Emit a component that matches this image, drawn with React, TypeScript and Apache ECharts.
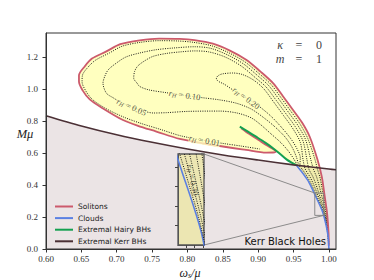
import { useEffect, useRef } from "react";
import * as echarts from "echarts";

// ---------------- data ----------------
const xTicks = [0.6, 0.65, 0.7, 0.75, 0.8, 0.85, 0.9, 0.95, 1.0];
const yTicks = [0.0, 0.2, 0.4, 0.6, 0.8, 1.0, 1.2];
const insetXTicks = [0.984, 0.988, 0.992];
const insetYTicks = [0.24, 0.27, 0.30, 0.33];
const solitons: number[][] = [
  [0.9998, 0.02], [0.9995, 0.10], [0.9975, 0.22], [0.994, 0.33], [0.990, 0.45], [0.984, 0.556],
  [0.973, 0.70], [0.962, 0.79], [0.949, 0.87], [0.935, 0.955], [0.921, 1.037], [0.903, 1.11],
  [0.883, 1.183], [0.860, 1.24], [0.836, 1.283], [0.810, 1.305], [0.789, 1.313], [0.760, 1.315],
  [0.7324, 1.304], [0.705, 1.28], [0.6854, 1.235], [0.665, 1.19], [0.6547, 1.141], [0.6466, 1.085],
  [0.6466, 1.047], [0.652, 0.99], [0.6618, 0.935], [0.680, 0.880], [0.7088, 0.806], [0.730, 0.770],
  [0.756, 0.734], [0.789, 0.688], [0.836, 0.650], [0.883, 0.619], [0.9115, 0.602], [0.921, 0.603],
  [0.925, 0.610], [0.922, 0.622], [0.912, 0.648], [0.900, 0.683], [0.887, 0.720], [0.876, 0.755],
];
const extremalHairy: number[][] = [
  [0.874, 0.765], [0.885, 0.735], [0.897, 0.702], [0.910, 0.665], [0.921, 0.630],
  [0.931, 0.594], [0.940, 0.560], [0.948, 0.538], [0.954, 0.524],
];
const clouds: number[][] = [
  [0.954, 0.524], [0.962, 0.48], [0.970, 0.43], [0.977, 0.37], [0.982, 0.322],
  [0.987, 0.275], [0.9915, 0.227], [0.996, 0.15], [0.9988, 0.08], [1.0, 0.0],
];
const extremalKerr: number[][] = [
  [0.60, 0.833], [0.65, 0.769], [0.70, 0.714], [0.75, 0.667], [0.80, 0.625],
  [0.85, 0.588], [0.90, 0.556], [0.95, 0.526], [1.00, 0.500], [1.01, 0.495],
];
const rH030: number[][] = [
  [0.9994, 0.035], [0.9975, 0.12], [0.9937, 0.20], [0.9902, 0.25], [0.9856, 0.30],
  [0.9808, 0.35], [0.9757, 0.40], [0.9696, 0.45], [0.9619, 0.50], [0.9565, 0.526],
];
const rH020: number[][] = [
  [0.9993, 0.06], [0.9978, 0.12], [0.9944, 0.20], [0.9913, 0.25], [0.9873, 0.30], [0.9831, 0.35],
  [0.9786, 0.40], [0.9733, 0.45], [0.9665, 0.50], [0.9635, 0.556], [0.9596, 0.6655], [0.9486, 0.7555],
  [0.9356, 0.8355], [0.9216, 0.9205], [0.9076, 1.0025], [0.8937, 1.055], [0.878, 1.09], [0.864, 1.10],
  [0.850, 1.095], [0.844, 1.085], [0.8408, 1.068], [0.843, 1.05], [0.852, 1.03], [0.864, 0.995],
  [0.883, 0.945], [0.902, 0.889], [0.918, 0.83], [0.932, 0.765], [0.946, 0.69], [0.955, 0.625],
  [0.9595, 0.57], [0.959, 0.527],
];
const rH010: number[][] = [
  [0.9992, 0.08], [0.9982, 0.12], [0.9953, 0.20], [0.9926, 0.25], [0.9892, 0.30], [0.9856, 0.35],
  [0.9819, 0.40], [0.9775, 0.45], [0.9716, 0.50], [0.969, 0.556], [0.9633, 0.675], [0.9523, 0.765],
  [0.9393, 0.845], [0.9253, 0.930], [0.9113, 1.012], [0.8962, 1.070], [0.8762, 1.143], [0.8532, 1.20],
  [0.830, 1.232], [0.810, 1.238], [0.790, 1.232], [0.770, 1.222], [0.752, 1.205], [0.742, 1.183],
  [0.730, 1.145], [0.7253, 1.110], [0.724, 1.068], [0.729, 1.035], [0.7324, 1.016], [0.745, 0.995],
  [0.770, 0.977], [0.795, 0.960], [0.822, 0.945], [0.8455, 0.932], [0.870, 0.91], [0.89, 0.875],
  [0.905, 0.83], [0.922, 0.77], [0.938, 0.70], [0.948, 0.635], [0.954, 0.575], [0.957, 0.527],
];
const rH005: number[][] = [
  [0.9995, 0.06], [0.9986, 0.12], [0.9963, 0.20], [0.9942, 0.25], [0.9916, 0.30], [0.9888, 0.35],
  [0.9859, 0.40], [0.9826, 0.45], [0.9780, 0.50], [0.9745, 0.556], [0.9669, 0.684], [0.9559, 0.774],
  [0.9429, 0.854], [0.9289, 0.939], [0.9149, 1.021], [0.8988, 1.085], [0.8788, 1.158], [0.8558, 1.215],
  [0.832, 1.255], [0.81, 1.264], [0.7795, 1.256], [0.755, 1.245], [0.7324, 1.225], [0.713, 1.20],
  [0.6995, 1.162], [0.688, 1.12], [0.683, 1.078], [0.6806, 1.037], [0.6854, 0.974], [0.695, 0.945],
  [0.7042, 0.921], [0.72, 0.89], [0.738, 0.862], [0.752, 0.850], [0.77, 0.852], [0.80, 0.860],
  [0.8455, 0.862], [0.87, 0.85], [0.89, 0.82], [0.904, 0.775], [0.918, 0.72], [0.932, 0.665],
  [0.943, 0.61], [0.950, 0.565], [0.955, 0.527],
];
const rH001: number[][] = [
  [0.9997, 0.03], [0.9990, 0.12], [0.9972, 0.20], [0.9956, 0.25], [0.9937, 0.30], [0.9916, 0.35],
  [0.9895, 0.40], [0.9872, 0.45], [0.9837, 0.50], [0.9805, 0.556], [0.970, 0.692], [0.959, 0.782],
  [0.946, 0.862], [0.932, 0.947], [0.918, 1.029], [0.9009, 1.0975], [0.8809, 1.1705], [0.8579, 1.2275],
  [0.8339, 1.2705], [0.808, 1.292], [0.787, 1.300], [0.760, 1.302], [0.734, 1.292], [0.708, 1.268],
  [0.690, 1.226], [0.670, 1.18], [0.6595, 1.137], [0.6515, 1.085], [0.651, 1.045], [0.656, 0.99],
  [0.665, 0.937], [0.683, 0.882], [0.709, 0.826], [0.735, 0.784], [0.760, 0.750], [0.790, 0.708],
  [0.822, 0.680], [0.850, 0.660], [0.875, 0.644], [0.902, 0.625],
];
// contour label anchors
const contourLabels: { v: number[]; t: string; rot: number }[] = [
  { v: [0.824, 0.679], t: "0.01", rot: -10 },
  { v: [0.721, 0.888], t: "0.05", rot: -24 },
  { v: [0.796, 0.962], t: "0.10", rot: -8 },
  { v: [0.883, 0.944], t: "0.20", rot: -36 },
];
const insetLabels: { v: number[]; t: string; rot: number }[] = [
  { v: [0.9872, 0.31], t: "0.30", rot: -78 },
];
const insetX = [0.98, 0.9926];
const insetY = [0.21, 0.35];
const legendNames = ["Solitons", "Clouds", "Extremal Hairy BHs", "Extremal Kerr BHs"];

// ---------------- styles ----------------
const SERIF = "'Liberation Serif', 'DejaVu Serif', serif";
const SANS = "'DejaVu Sans', sans-serif";
const RED = "#cc5a6c";
const BLUE = "#5b80e2";
const GREEN = "#14a050";
const KERR = "#4b3035";
const LABEL = "#1f1f1f";
const INSET = { left: 178, top: 154, width: 26, height: 91 };

const labelRich = (bg: string) => ({
  r: { fontFamily: SERIF, fontStyle: "italic", fontSize: 8.5, color: LABEL, backgroundColor: bg },
  h: { fontFamily: SERIF, fontStyle: "italic", fontSize: 6, color: LABEL, padding: [4, 0, 0, 0], backgroundColor: bg },
  t: { fontFamily: SERIF, fontSize: 8.5, color: LABEL, backgroundColor: bg },
});

function contour(data: number[][], idx: number, z: number) {
  return {
    type: "line", data, xAxisIndex: idx, yAxisIndex: idx, showSymbol: false, symbol: "none",
    smooth: 0.3, silent: true, z,
    lineStyle: { color: "#111", width: 0.95, type: [1, 1.3] },
  };
}

function labelSeries(items: { v: number[]; t: string; rot: number }[], idx: number, bg: string, z: number) {
  return {
    type: "scatter", xAxisIndex: idx, yAxisIndex: idx, symbolSize: 0.1, silent: true, z,
    itemStyle: { color: "transparent" },
    data: items.map((it) => ({
      value: it.v,
      label: {
        show: true, position: "inside", rotate: it.rot,
        formatter: "{r|r}{h|H}{t| = " + it.t + "}",
        rich: labelRich(bg),
      },
    })),
  };
}

export default function App() {
  const ref = useRef<HTMLDivElement>(null);
  useEffect(() => {
    if (!ref.current) return;
    const chart = echarts.init(ref.current, undefined, { renderer: "svg" });
    const domain = [...solitons, ...extremalHairy, ...clouds.slice(1)];
    const tickLabel = { fontFamily: SERIF, fontSize: 9, color: "#333" };
    const txt = (x: number, y: number, text: string, italic: boolean) => ({
      type: "text", x, y, z: 20, silent: true,
      style: { text, fontFamily: SERIF, fontStyle: italic ? "italic" : "normal", fontSize: 12, fill: "#444", align: "center", verticalAlign: "middle" },
    });
    chart.setOption({
      animation: false,
      backgroundColor: "#ffffff",
      grid: [
        { left: 46, right: 38, top: 33, bottom: 31, show: true, z: 3, backgroundColor: "transparent", borderColor: "#333", borderWidth: 1 },
        { left: INSET.left, top: INSET.top, width: INSET.width, height: INSET.height, show: true, z: 10, backgroundColor: "#ece6b2", borderColor: "#555", borderWidth: 1.3 },
      ],
      xAxis: [
        {
          type: "value", gridIndex: 0, min: 0.6, max: 1.01, z: 3,
          axisLine: { show: true, lineStyle: { color: "#333", width: 1 } },
          axisTick: { show: true, length: 3.5, lineStyle: { color: "#333" }, customValues: xTicks },
          axisLabel: { ...tickLabel, margin: 5, customValues: xTicks, formatter: (v: number) => v.toFixed(2) },
          splitLine: { show: false },
        },
        {
          type: "value", gridIndex: 1, min: insetX[0], max: insetX[1], z: 11,
          axisLine: { show: true, lineStyle: { color: "#555" } },
          axisTick: { show: true, length: 3, lineStyle: { color: "#444" }, customValues: insetXTicks },
          axisLabel: { show: false }, splitLine: { show: false },
        },
      ],
      yAxis: [
        {
          type: "value", gridIndex: 0, min: 0, max: 1.35, z: 3,
          axisLine: { show: true, lineStyle: { color: "#333", width: 1 } },
          axisTick: { show: true, length: 3.5, lineStyle: { color: "#333" }, customValues: yTicks },
          axisLabel: { ...tickLabel, margin: 8, customValues: yTicks, formatter: (v: number) => v.toFixed(1) },
          splitLine: { show: false },
        },
        {
          type: "value", gridIndex: 1, min: insetY[0], max: insetY[1], z: 11,
          axisLine: { show: true, lineStyle: { color: "#555" } },
          axisTick: { show: true, length: 3, lineStyle: { color: "#444" }, customValues: insetYTicks },
          axisLabel: { show: false }, splitLine: { show: false },
        },
      ],
      legend: {
        data: legendNames, orient: "vertical", left: 50, top: 197, icon: "rect",
        itemWidth: 18, itemHeight: 2, itemGap: 2.6,
        textStyle: { fontFamily: SANS, fontSize: 7.5, color: "#222", lineHeight: 9 },
      },
      series: [
        {
          type: "line", data: extremalKerr, smooth: 0.3, showSymbol: false, symbol: "none", silent: true, z: 1,
          lineStyle: { width: 0 }, areaStyle: { color: "#ebe4e5", opacity: 1, origin: "start" },
        },
        {
          type: "custom", silent: true, z: 1, data: [[0.8, 0.8]],
          renderItem: (_p: any, api: any) => ({
            type: "polygon",
            shape: { points: domain.map((p) => api.coord(p)), smooth: 0.3 },
            style: { fill: "rgba(255,255,0,0.25)" },
          }),
        },
        contour(rH001, 0, 2),
        contour(rH005, 0, 2),
        contour(rH010, 0, 2),
        contour(rH020, 0, 2),
        contour(rH030, 0, 2),
        labelSeries(contourLabels, 0, "#ffffbf", 4),
        { name: "Solitons", type: "line", data: solitons, smooth: 0.3, showSymbol: false, symbol: "none", z: 2, lineStyle: { color: RED, width: 1.8 }, itemStyle: { color: RED } },
        { name: "Clouds", type: "line", data: clouds, smooth: 0.3, showSymbol: false, symbol: "none", z: 2, lineStyle: { color: BLUE, width: 1.6 }, itemStyle: { color: BLUE } },
        { name: "Extremal Hairy BHs", type: "line", data: extremalHairy, smooth: 0.3, showSymbol: false, symbol: "none", z: 2, lineStyle: { color: GREEN, width: 2 }, itemStyle: { color: GREEN } },
        { name: "Extremal Kerr BHs", type: "line", data: extremalKerr, smooth: 0.3, showSymbol: false, symbol: "none", z: 2, lineStyle: { color: KERR, width: 1.6 }, itemStyle: { color: KERR } },
        {
          type: "custom", silent: true, z: 9, clip: false, data: [[insetX[0], insetY[0]]],
          renderItem: (_p: any, api: any) => {
            const tl = api.coord([insetX[0], insetY[1]]);
            const tr = api.coord([insetX[1], insetY[1]]);
            const br = api.coord([insetX[1], insetY[0]]);
            const bl = api.coord([insetX[0], insetY[0]]);
            const st = { stroke: "#808080", lineWidth: 0.9, fill: "none" };
            return {
              type: "group",
              children: [
                { type: "polygon", shape: { points: [bl, br, tr, tl] }, style: st },
                { type: "line", shape: { x1: INSET.left + INSET.width, y1: INSET.top, x2: tl[0], y2: tl[1] }, style: st },
                { type: "line", shape: { x1: INSET.left + INSET.width, y1: INSET.top + INSET.height, x2: br[0], y2: br[1] }, style: st },
              ],
            };
          },
        },
        // inset
        { type: "line", data: clouds, xAxisIndex: 1, yAxisIndex: 1, smooth: 0.3, showSymbol: false, symbol: "none", silent: true, z: 11, lineStyle: { color: BLUE, width: 1.6 } },
        contour(rH030, 1, 11),
        contour(rH020, 1, 11),
        contour(rH010, 1, 11),
        contour(rH005, 1, 11),
        contour(rH001, 1, 11),
        labelSeries(insetLabels, 1, "transparent", 12),
      ],
      graphic: [
        { type: "text", x: 25, y: 134, z: 20, silent: true, style: { text: "Mμ", fontFamily: SERIF, fontStyle: "italic", fontSize: 12.5, fill: "#222", align: "center", verticalAlign: "middle" } },
        {
          type: "text", x: 190, y: 273, z: 20, silent: true,
          style: {
            text: "{a|ω}{b|s}{a|/μ}", align: "center", verticalAlign: "middle",
            rich: {
              a: { fontFamily: SERIF, fontStyle: "italic", fontSize: 12, fill: "#222" },
              b: { fontFamily: SERIF, fontStyle: "italic", fontSize: 8, fill: "#222", padding: [5, 0, 0, 0] },
            },
          },
        },
        { type: "text", x: 326, y: 241, z: 20, silent: true, style: { text: "Kerr Black Holes", fontFamily: SANS, fontSize: 10, fill: "#111", align: "right", verticalAlign: "middle" } },
        txt(280, 45, "κ", true),
        txt(280, 59, "m", true),
        txt(299, 45, "=", false),
        txt(299, 59, "=", false),
        txt(319, 45, "0", false),
        txt(319, 59, "1", false),
      ],
    });
    return () => chart.dispose();
  }, []);
  return <div ref={ref} style={{ width: 374, height: 280, position: "absolute", left: 0, top: 0 }} />;
}
